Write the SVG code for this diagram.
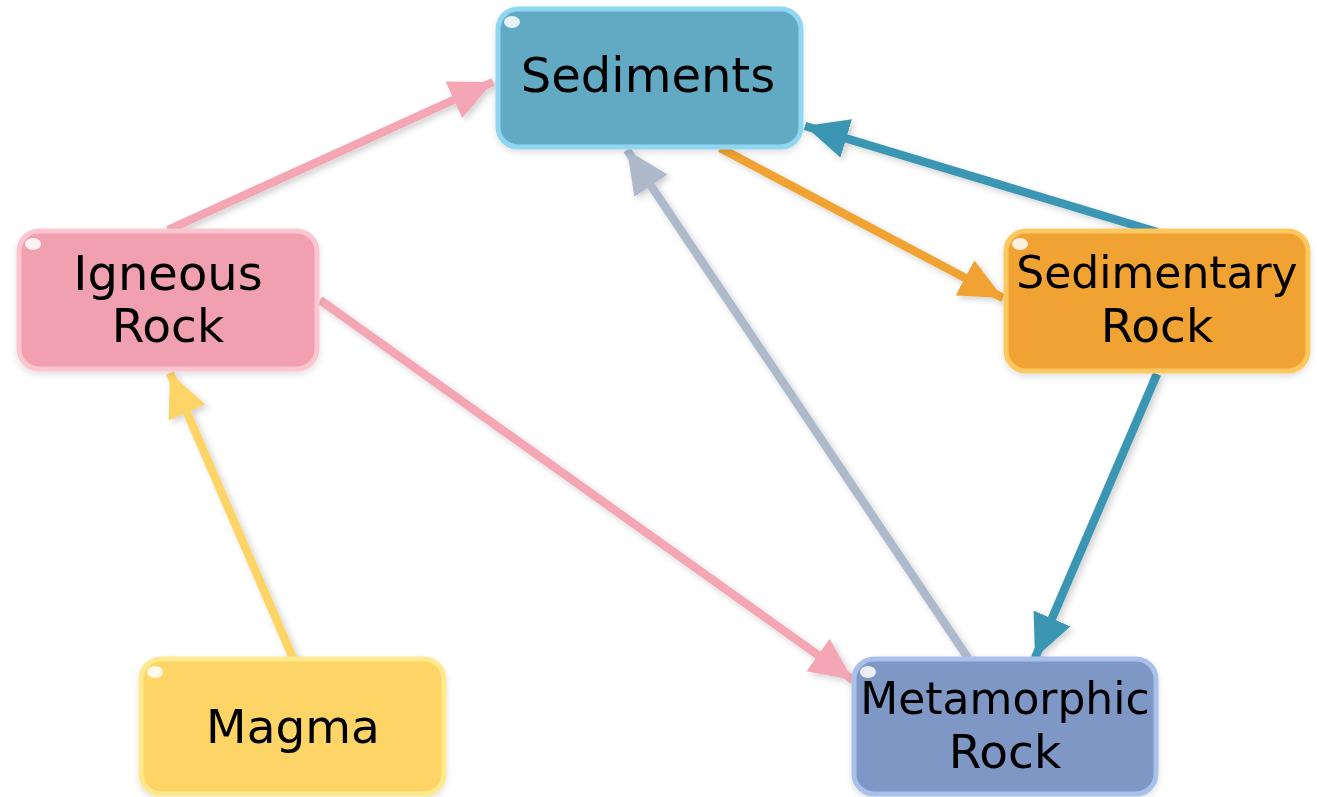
<svg xmlns="http://www.w3.org/2000/svg" width="1317" height="797" viewBox="0 0 1317 797">
<style>
.lbl{font-family:"DejaVu Sans","Verdana",sans-serif;font-size:47px;fill:#000;text-anchor:middle}
.lg{font-size:48px}
.sm{font-size:44px}
.box{stroke-width:5}
.hl{fill:#fff;opacity:0.85}
.edge{fill:none;stroke-width:8.5;filter:url(#sh)}
</style>
<defs>
<filter id="sh" x="-20%" y="-20%" width="140%" height="140%">
<feDropShadow dx="3" dy="3" stdDeviation="3" flood-color="#000" flood-opacity="0.18"/>
</filter>
<filter id="nsh" x="-10%" y="-10%" width="120%" height="130%">
<feDropShadow dx="0" dy="3" stdDeviation="3" flood-color="#000" flood-opacity="0.12"/>
</filter>
<marker id="aPink" markerUnits="userSpaceOnUse" markerWidth="46" markerHeight="42" refX="43" refY="20" orient="auto"><path d="M0,0 L43,20 L0,40 Z" fill="#F4A6B4"/></marker>
<marker id="aOrange" markerUnits="userSpaceOnUse" markerWidth="46" markerHeight="42" refX="43" refY="20" orient="auto"><path d="M0,0 L43,20 L0,40 Z" fill="#F0A232"/></marker>
<marker id="aTeal" markerUnits="userSpaceOnUse" markerWidth="46" markerHeight="42" refX="43" refY="20" orient="auto"><path d="M0,0 L43,20 L0,40 Z" fill="#3A96B4"/></marker>
<marker id="aGrey" markerUnits="userSpaceOnUse" markerWidth="46" markerHeight="42" refX="43" refY="20" orient="auto"><path d="M0,0 L43,20 L0,40 Z" fill="#AEB9CB"/></marker>
<marker id="aYellow" markerUnits="userSpaceOnUse" markerWidth="46" markerHeight="42" refX="43" refY="20" orient="auto"><path d="M0,0 L43,20 L0,40 Z" fill="#FDD566"/></marker>
</defs>
<rect width="1317" height="797" fill="#fff"/>
<g id="connectors">
<line class="edge" x1="168" y1="230" x2="493" y2="82" stroke="#F4A6B4" marker-end="url(#aPink)"/>
<line class="edge" x1="720" y1="148" x2="1003" y2="298" stroke="#F0A232" marker-end="url(#aOrange)"/>
<line class="edge" x1="1157" y1="232" x2="805" y2="126" stroke="#3A96B4" marker-end="url(#aTeal)"/>
<line class="edge" x1="968" y1="658" x2="627" y2="150" stroke="#AEB9CB" marker-end="url(#aGrey)"/>
<line class="edge" x1="320" y1="300" x2="853" y2="680" stroke="#F4A6B4" marker-end="url(#aPink)"/>
<line class="edge" x1="1157" y1="374" x2="1035" y2="658" stroke="#3A96B4" marker-end="url(#aTeal)"/>
<line class="edge" x1="853" y1="728" x2="447" y2="728" stroke="#AEB9CB" marker-end="url(#aGrey)"/>
<line class="edge" x1="293" y1="658" x2="170" y2="373" stroke="#FDD566" marker-end="url(#aYellow)"/>
</g>
<g id="sediments" filter="url(#nsh)">
<rect class="box" x="498" y="9" width="303" height="138" rx="20" fill="#62AAC4" stroke="#8FD6F0"/>
<ellipse class="hl" cx="512" cy="22" rx="8" ry="6"/>
<text class="lbl lg" x="648" y="92">Sediments</text>
</g>
<g id="igneous" filter="url(#nsh)">
<rect class="box" x="19" y="231" width="298" height="138" rx="20" fill="#F0A0AE" stroke="#FCC6D0"/>
<ellipse class="hl" cx="33" cy="244" rx="8" ry="6"/>
<text class="lbl lg" x="168" y="290">Igneous</text>
<text class="lbl" x="168" y="342">Rock</text>
</g>
<g id="sedimentary" filter="url(#nsh)">
<rect class="box" x="1006" y="231" width="302" height="140" rx="20" fill="#F0A232" stroke="#FCC85E"/>
<ellipse class="hl" cx="1020" cy="244" rx="8" ry="6"/>
<text class="lbl sm" x="1157" y="288">Sedimentary</text>
<text class="lbl" x="1157" y="342">Rock</text>
</g>
<g id="magma" filter="url(#nsh)">
<rect class="box" x="141" y="659" width="303" height="135" rx="20" fill="#FDD566" stroke="#FEE98E"/>
<ellipse class="hl" cx="155" cy="672" rx="8" ry="6"/>
<text class="lbl" x="293" y="743">Magma</text>
</g>
<g id="metamorphic" filter="url(#nsh)">
<rect class="box" x="854" y="659" width="302" height="135" rx="20" fill="#7F97C4" stroke="#A9C0EA"/>
<ellipse class="hl" cx="868" cy="672" rx="8" ry="6"/>
<text class="lbl sm" x="1005" y="714">Metamorphic</text>
<text class="lbl" x="1005" y="768">Rock</text>
</g>
</svg>
